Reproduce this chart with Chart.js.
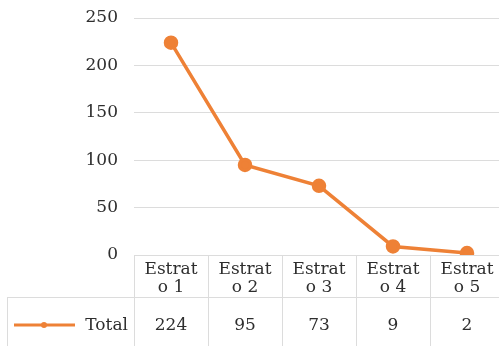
<!DOCTYPE html>
<html>
<head>
<meta charset="utf-8">
<script src="https://cdn.jsdelivr.net/npm/chart.js@4/dist/chart.umd.min.js"></script>
<style>
  html, body { margin: 0; padding: 0; background: #fff; overflow: hidden; }
  #wrap { width: 499px; height: 346px; overflow: hidden; }
  canvas { display: block; }
</style>
</head>
<body>
<div id="wrap"><canvas id="c" width="506" height="346"></canvas></div>
<script>
// Number of people per stratum
const categories = ['Estrato 1', 'Estrato 2', 'Estrato 3', 'Estrato 4', 'Estrato 5'];
const totals = [224, 95, 73, 9, 2];
const seriesName = 'Total';
const yTicks = [0, 50, 100, 150, 200, 250];

const ORANGE = '#EE8136';
const GRID = '#dcdcdc';
const TEXT = '#2e2e2e';
const FONT = '"DejaVu Serif", "Liberation Serif", serif';

// Excel-style data table under the plot, aligned to the category scale
const dataTable = {
  id: 'dataTable',
  afterDraw(chart) {
    const ctx = chart.ctx;
    const x = chart.scales.x;
    const area = chart.chartArea;
    const n = categories.length;
    const step = (area.right - area.left) / n;
    const top = area.bottom;
    const rowSplit = top + 42;
    const bottom = chart.height + 2;
    const legendLeft = 7;

    ctx.save();
    ctx.strokeStyle = GRID;
    ctx.lineWidth = 1;
    // column borders
    for (let i = 0; i <= n; i++) {
      const px = Math.round(area.left + i * step) + 0.5;
      ctx.beginPath();
      ctx.moveTo(px, top);
      ctx.lineTo(px, bottom);
      ctx.stroke();
    }
    // row separator and legend cell border
    ctx.beginPath();
    ctx.moveTo(legendLeft, rowSplit + 0.5);
    ctx.lineTo(area.right, rowSplit + 0.5);
    ctx.stroke();
    ctx.beginPath();
    ctx.moveTo(legendLeft + 0.5, rowSplit);
    ctx.lineTo(legendLeft + 0.5, bottom);
    ctx.stroke();

    ctx.fillStyle = TEXT;
    ctx.font = '17px ' + FONT;
    ctx.textAlign = 'center';
    ctx.textBaseline = 'middle';
    categories.forEach((label, i) => {
      const cx = x.getPixelForValue(i);
      const head = label.slice(0, 6);
      const tail = label.slice(6);
      ctx.fillText(head, cx, top + 15);
      ctx.fillText(tail, cx, top + 33);
      ctx.fillText(String(totals[i]), cx, rowSplit + 29);
    });

    // legend key: line with marker, then the series name
    const ly = rowSplit + 28;
    ctx.strokeStyle = ORANGE;
    ctx.lineWidth = 3;
    ctx.beginPath();
    ctx.moveTo(14, ly);
    ctx.lineTo(75, ly);
    ctx.stroke();
    ctx.fillStyle = ORANGE;
    ctx.beginPath();
    ctx.arc(44, ly, 3, 0, Math.PI * 2);
    ctx.fill();
    ctx.fillStyle = TEXT;
    ctx.textAlign = 'right';
    ctx.fillText(seriesName, area.left - 6, rowSplit + 29);
    ctx.restore();
  }
};

new Chart(document.getElementById('c'), {
  type: 'line',
  data: {
    labels: categories,
    datasets: [{
      label: seriesName,
      data: totals,
      borderColor: ORANGE,
      backgroundColor: ORANGE,
      borderWidth: 3.5,
      pointRadius: 5.5,
      pointHoverRadius: 5.5,
      pointBackgroundColor: ORANGE,
      pointBorderColor: ORANGE,
      tension: 0
    }]
  },
  options: {
    responsive: false,
    animation: false,
    devicePixelRatio: 1,
    layout: { autoPadding: false, padding: { top: 18, right: 2, bottom: 91, left: 0 } },
    plugins: {
      legend: { display: false },
      tooltip: { enabled: false }
    },
    scales: {
      x: {
        type: 'category',
        display: false,
        offset: true
      },
      y: {
        min: 0,
        max: 250,
        afterFit(scale) {
          scale.width = 134;
          scale.paddingTop = 0;
          scale.paddingBottom = 0;
        },
        afterBuildTicks(scale) { scale.ticks = yTicks.map(v => ({ value: v })); },
        border: { display: false },
        grid: { color: GRID, lineWidth: 1, drawTicks: false },
        ticks: {
          padding: 16,
          color: TEXT,
          font: { family: FONT, size: 17 }
        }
      }
    }
  },
  plugins: [dataTable]
});
</script>
</body>
</html>
